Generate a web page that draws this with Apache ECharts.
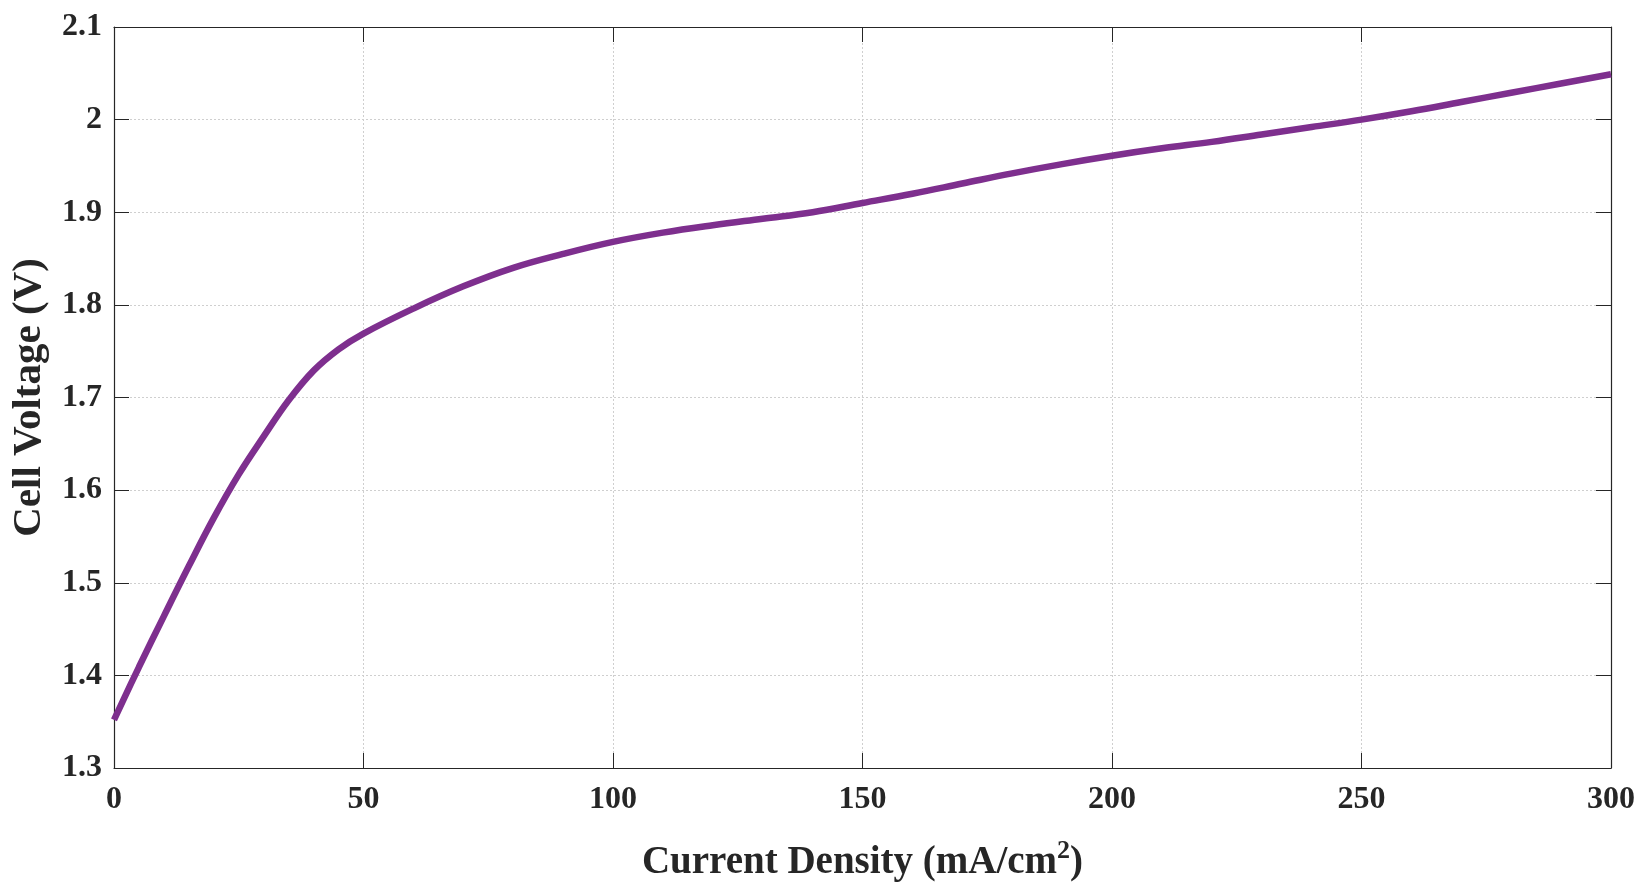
<!DOCTYPE html>
<html>
<head>
<meta charset="utf-8">
<script src="https://cdn.jsdelivr.net/npm/echarts@6/dist/echarts.min.js"></script>
<style>
html,body{margin:0;padding:0;background:#fff;}
#chart{width:1646px;height:892px;}
</style>
</head>
<body>
<div id="chart"></div>
<script>
// Current density (mA/cm^2)
const currentDensity = [0, 5, 10, 15, 20, 25, 30, 35, 40, 45, 50, 60, 70, 80, 90, 100, 110, 120, 130, 140, 150, 160, 170, 180, 190, 200, 210, 220, 230, 240, 250, 260, 270, 280, 290, 300];
// Cell voltage (V)
const cellVoltage = [1.352, 1.409, 1.464, 1.518, 1.570, 1.617, 1.658, 1.697, 1.729, 1.752, 1.769, 1.796, 1.820, 1.840, 1.855, 1.868, 1.878, 1.886, 1.893, 1.900, 1.910, 1.920, 1.931, 1.942, 1.952, 1.961, 1.969, 1.976, 1.984, 1.992, 2.000, 2.009, 2.019, 2.029, 2.039, 2.049];
const xTicks = { min: 0, max: 300, interval: 50 };
const yTicks = { min: 1.3, max: 2.1, interval: 0.1 };
const xTitle = 'Current Density (mA/cm';
const yTitle = 'Cell Voltage (V)';

const FONT = '"Liberation Serif", "Times New Roman", serif';
const AX = '#262626';
const chart = echarts.init(document.getElementById('chart'), null, { renderer: 'canvas' });

const yFmt = v => String(+v.toFixed(1));

chart.setOption({
  backgroundColor: '#ffffff',
  animation: false,
  grid: { left: 114, right: 35, top: 27, bottom: 124, containLabel: false },
  xAxis: [
    {
      type: 'value', position: 'bottom', min: xTicks.min, max: xTicks.max, interval: xTicks.interval,
      name: '{a|' + xTitle + '}{s|2}{a|)}',
      nameLocation: 'middle', nameGap: 70,
      nameTextStyle: {
        rich: {
          a: { fontFamily: FONT, fontWeight: 'bold', fontSize: 39, color: AX, lineHeight: 44, verticalAlign: 'bottom' },
          s: { fontFamily: FONT, fontWeight: 'bold', fontSize: 26, color: AX, lineHeight: 44, verticalAlign: 'top', padding: [0, 0, 20, 0] }
        }
      },
      axisLine: { show: true, onZero: false, lineStyle: { color: AX, width: 1.2 } },
      axisTick: { show: true, inside: true, length: 15, lineStyle: { color: AX } },
      axisLabel: { fontFamily: FONT, fontWeight: 'bold', fontSize: 32, color: AX, margin: 16 },
      splitLine: { show: true, lineStyle: { color: '#cfcfcf', type: [2, 2], width: 1 } }
    },
    {
      type: 'value', position: 'top', min: xTicks.min, max: xTicks.max, interval: xTicks.interval,
      axisLine: { show: true, onZero: false, lineStyle: { color: AX, width: 1.2 } },
      axisTick: { show: true, inside: true, length: 15, lineStyle: { color: AX } },
      axisLabel: { show: false },
      splitLine: { show: false }
    }
  ],
  yAxis: [
    {
      type: 'value', position: 'left', min: yTicks.min, max: yTicks.max, interval: yTicks.interval,
      name: yTitle, nameLocation: 'middle', nameGap: 64,
      nameTextStyle: { fontFamily: FONT, fontWeight: 'bold', fontSize: 41, color: AX },
      axisLine: { show: true, onZero: false, lineStyle: { color: AX, width: 1.2 } },
      axisTick: { show: true, inside: true, length: 15, lineStyle: { color: AX } },
      axisLabel: { fontFamily: FONT, fontWeight: 'bold', fontSize: 32, color: AX, margin: 12, formatter: yFmt },
      splitLine: { show: true, lineStyle: { color: '#cfcfcf', type: [2, 2], width: 1 } }
    },
    {
      type: 'value', position: 'right', min: yTicks.min, max: yTicks.max, interval: yTicks.interval,
      axisLine: { show: true, onZero: false, lineStyle: { color: AX, width: 1.2 } },
      axisTick: { show: true, inside: true, length: 15, lineStyle: { color: AX } },
      axisLabel: { show: false },
      splitLine: { show: false }
    }
  ],
  series: [
    {
      type: 'line',
      xAxisIndex: 0, yAxisIndex: 0,
      data: currentDensity.map((x, i) => [x, cellVoltage[i]]),
      showSymbol: false,
      smooth: 0.4,
      lineStyle: { color: 'rgb(126,47,142)', width: 6.5, cap: 'butt' },
      clip: false
    }
  ]
});
</script>
</body>
</html>
